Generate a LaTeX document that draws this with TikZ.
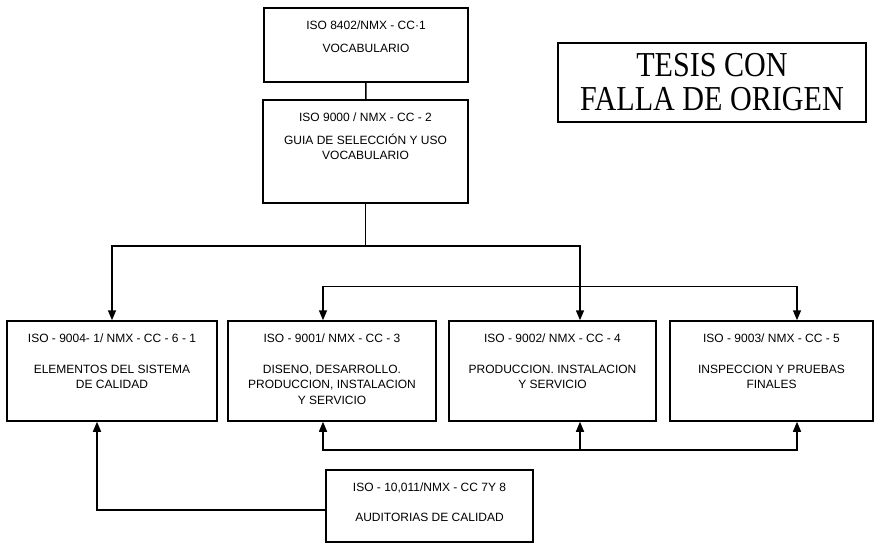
\documentclass[tikz,border=0pt]{standalone}
\usepackage{fontspec}
\setmainfont{Liberation Sans}
\newfontfamily\sellofont[FakeStretch=0.86]{Liberation Serif}
\usetikzlibrary{arrows.meta,calc}
\tikzset{
  >={Triangle[length=10pt,width=8pt]},
  caja/.style={draw,line width=1.5pt,minimum width=208pt,minimum height=100pt,inner sep=0pt},
  rotulo/.style={font=\fontsize{12}{15.5}\selectfont,align=center,inner sep=0pt,anchor=north},
  liga/.style={line width=1.5pt},
  flecha/.style={->,line width=1.5pt},
  sello/.style={draw,line width=1.8pt,minimum width=308pt,minimum height=79pt,inner sep=0pt,align=center,font=\sellofont\fontsize{35}{34}\selectfont},
}
\newcommand{\norma}[6][]{\node[caja,#1] (#2) at (#3) {};
  \node[rotulo] at ([yshift=-13pt]#2.north) {#5\\[#4]#6};}

\begin{document}
\begin{tikzpicture}[x=1pt,y=-1pt]
  \useasboundingbox (0,0) rectangle (875,548);
  % normas
  \norma[minimum width=204pt,minimum height=74pt]{voc}{366,45}{7.5pt}{ISO 8402/NMX - CC·1}{VOCABULARIO}
  \norma[minimum width=205pt,minimum height=103pt]{guia}{365.5,151.5}{7.5pt}{ISO 9000 / NMX - CC - 2}{GUIA DE SELECCIÓN Y USO\\VOCABULARIO}
  \norma[minimum width=210pt]{elem}{112,371}{15.5pt}{ISO - 9004- 1/ NMX - CC - 6 - 1}{ELEMENTOS DEL SISTEMA\\DE CALIDAD}
  \norma{dise}{332,371}{15.5pt}{ISO - 9001/ NMX - CC - 3}{DISENO, DESARROLLO.\\PRODUCCION, INSTALACION\\Y SERVICIO}
  \norma[minimum width=207pt]{prod}{552.5,371}{15.5pt}{ISO - 9002/ NMX - CC - 4}{PRODUCCION. INSTALACION\\Y SERVICIO}
  \norma[minimum width=203pt]{insp}{771.5,371}{15.5pt}{ISO - 9003/ NMX - CC - 5}{INSPECCION Y PRUEBAS\\FINALES}
  \norma[minimum width=207pt,minimum height=72pt]{aud}{429.5,506}{14.5pt}{ISO - 10,011/NMX - CC 7Y 8}{AUDITORIAS DE CALIDAD}
  \node[sello] (sello) at (712,82.5) {TESIS CON\\FALLA DE ORIGEN};
  % conexiones
  \draw[liga] (voc) -- (guia);
  \draw[flecha] (guia.south) -- ++(0,42) coordinate (rama) -| (elem.north);
  \draw[flecha] (rama) -| ([xshift=27.5pt]prod.north);
  \draw[<->,liga] ([xshift=-9pt]dise.north) -- ++(0,-34) -| ([xshift=25.5pt]insp.north);
  \draw[<->,liga] ([xshift=-9pt]dise.south) -- ++(0,28) -| ([xshift=25.5pt]insp.south);
  \coordinate (pie) at ([xshift=27.5pt]prod.south);
  \draw[flecha] ([yshift=-28pt]pie) -- (pie);
  \draw[flecha] ([yshift=-4pt]aud.west) -| ([xshift=-15pt]elem.south);
\end{tikzpicture}
\end{document}
